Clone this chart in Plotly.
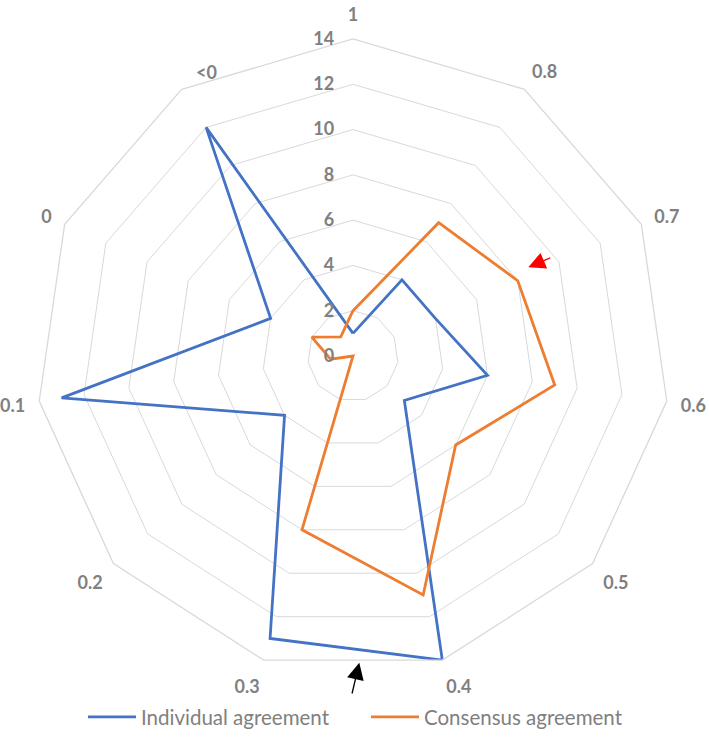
import plotly.graph_objects as go

categories = ["1", "0.8", "0.7", "0.6", "0.5", "0.4", "0.3", "0.2", "0.1", "0", "<0"]
individual = [1, 4, 4, 6, 3, 14, 13, 4, 13, 4, 12]
consensus = [2, 7, 8, 9, 6, 11, 8, 0, 1, 2, 1]
radial_ticks = [0, 2, 4, 6, 8, 10, 12, 14]

W, H = 709, 748
BLUE = "#4472C4"
ORANGE = "#ED7D31"
GRID = "#D9D9D9"
TXT = "#808080"
FONT = "Lato"


def closed(vals):
    return list(vals) + [vals[0]]


fig = go.Figure()
fig.add_trace(go.Scatterpolar(
    r=closed(individual), theta=closed(categories), mode="lines",
    name="Individual agreement", line=dict(color=BLUE, width=2.8)))
fig.add_trace(go.Scatterpolar(
    r=closed(consensus), theta=closed(categories), mode="lines",
    name="Consensus agreement", line=dict(color=ORANGE, width=2.8)))

# the "<0" category label sits further right in the original (placed separately)
ticktext = ["" if c == "<0" else c for c in categories]

cx, cy, R = 353, 356, 317
fig.update_layout(
    width=W, height=H,
    margin=dict(l=0, r=0, t=0, b=0),
    paper_bgcolor="white", plot_bgcolor="white",
    font=dict(family=FONT, color=TXT),
    polar=dict(
        domain=dict(x=[(cx - R) / W, (cx + R) / W],
                    y=[(H - cy - R) / H, (H - cy + R) / H]),
        bgcolor="white",
        gridshape="linear",
        angularaxis=dict(direction="clockwise", rotation=90,
                         tickmode="array", tickvals=categories, ticktext=ticktext,
                         showgrid=False, showline=True, linecolor=GRID, linewidth=1.3,
                         ticks="outside", ticklen=10, tickcolor="rgba(0,0,0,0)",
                         tickfont=dict(family=FONT, size=18, color=TXT, weight="bold")),
        radialaxis=dict(range=[0, 14], tickvals=radial_ticks, angle=90, tickangle=90,
                        side="counterclockwise", showline=False,
                        gridcolor=GRID, gridwidth=1.3,
                        ticks="outside", ticklen=12, tickcolor="rgba(0,0,0,0)",
                        tickfont=dict(family=FONT, size=18, color=TXT, weight="bold")),
    ),
    showlegend=True,
    legend=dict(orientation="h", x=83 / W, xanchor="left", y=(H - 717) / H, yanchor="middle",
                font=dict(family=FONT, size=20.5, color=TXT), bgcolor="rgba(0,0,0,0)",
                itemwidth=48, entrywidth=220, entrywidthmode="pixels"),
)

fig.add_annotation(x=206 / W, y=1 - 72 / H, xref="paper", yref="paper", text="<0",
                   showarrow=False, xanchor="center", yanchor="middle",
                   font=dict(family=FONT, size=18, color=TXT, weight="bold"))

# arrows (annotation markers)
arrows = [
    dict(tip=(528.3, 267.3), tail=(551.7, 257.3), color="#FF0000"),
    dict(tip=(359.3, 662.7), tail=(351.7, 695.0), color="#000000"),
]
for a in arrows:
    fig.add_annotation(x=a["tip"][0] / W, y=1 - a["tip"][1] / H, xref="paper", yref="paper",
                       ax=a["tail"][0] - a["tip"][0], ay=a["tail"][1] - a["tip"][1],
                       axref="pixel", ayref="pixel", text="", showarrow=True,
                       arrowhead=2, arrowsize=2.6, arrowwidth=1.3, arrowcolor=a["color"],
                       standoff=0)

fig.write_html("out.html")
